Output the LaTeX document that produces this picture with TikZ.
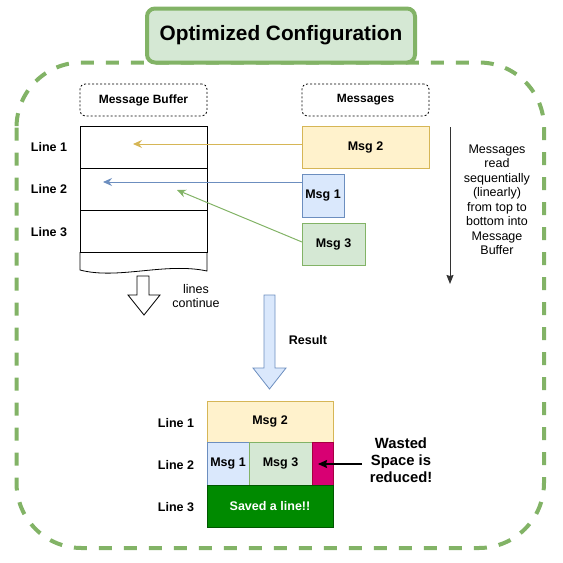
\documentclass[tikz,border=0pt]{standalone}
\usepackage{fontspec}
\setmainfont{Liberation Sans}
\usetikzlibrary{arrows.meta}
\definecolor{gfill}{HTML}{D5E8D4}
\definecolor{gline}{HTML}{82B366}
\definecolor{yfill}{HTML}{FFF2CC}
\definecolor{yline}{HTML}{D6B656}
\definecolor{bfill}{HTML}{DAE8FC}
\definecolor{bline}{HTML}{6C8EBF}
\definecolor{pfill}{HTML}{D80073}
\definecolor{pline}{HTML}{A50040}
\definecolor{dgfill}{HTML}{008A00}
\definecolor{dgline}{HTML}{005700}
\definecolor{darkarrow}{HTML}{333333}
\begin{document}
\begin{tikzpicture}[x=1pt,y=-1pt,
  every node/.style={inner sep=0pt,outer sep=0pt},
  lbl/.style={font=\bfseries\fontsize{12.5}{15}\selectfont},
  reg/.style={font=\fontsize{12.5}{14.5}\selectfont,align=center},
  cell/.style={draw,line width=0.8pt,font=\bfseries\fontsize{12.5}{15}\selectfont},
  hdr/.style={draw,dash pattern=on 2pt off 2pt,rounded corners=5pt,line width=0.8pt,
     minimum width=127pt,minimum height=32pt,font=\bfseries\fontsize{12}{14}\selectfont},
  carrow/.style={line width=1pt,-{Stealth[length=9pt,width=8pt,inset=3pt]}},
  bigarrow/.style={line width=0.8pt,line join=miter}
]
\useasboundingbox (0,0) rectangle (563,563);
% container
\draw[gline,line width=4pt,dash pattern=on 13pt off 12pt,rounded corners=65pt]
  (16.5,62.5) rectangle (544,548);
% title
\node[draw=gline,fill=gfill,line width=4pt,rounded corners=8pt,minimum width=268pt,
  minimum height=54pt,font=\bfseries\fontsize{20.8}{24}\selectfont] (title) at (281,35.5)
  {Optimized Configuration};
% headers
\node[hdr] (hbuf) at (143.5,100) {Message Buffer};
\node[hdr] (hmsg) at (365.5,100) {Messages};
% buffer
\node[cell,minimum width=127pt,minimum height=42pt] (b1) at (143.5,147) {};
\node[cell,minimum width=127pt,minimum height=42pt] (b2) at (143.5,189) {};
\node[cell,minimum width=127pt,minimum height=42pt] (b3) at (143.5,231) {};
\draw[line width=0.8pt] (b3.south west) -- (80,270) .. controls (118,280) and (165,262) .. (207,271) -- (b3.south east);
\node[lbl] (l1) at (49,147) {Line 1};
\node[lbl] (l2) at (49,189) {Line 2};
\node[lbl] (l3) at (49,232) {Line 3};
% messages
\node[cell,draw=yline,fill=yfill,minimum width=127pt,minimum height=42pt] (m2) at (365.5,147) {Msg 2};
\node[cell,draw=bline,fill=bfill,minimum width=42pt,minimum height=43pt] (m1) at (323,195.5) {Msg 1};
\node[cell,draw=gline,fill=gfill,minimum width=63pt,minimum height=42pt] (m3) at (333.5,244) {Msg 3};
% arrows into buffer
\coordinate (t2) at (133,144);
\coordinate (t1) at (103,182);
\coordinate (t3) at (177,190);
\draw[carrow,yline] (m2.west |- t2) -- (t2);
\draw[carrow,bline] (m1.west |- t1) -- (t1);
\draw[carrow,gline] (302,242) -- (t3);
% lines continue arrow
\draw[bigarrow,fill=white] (137,276) -- (149,276) -- (149,295) -- (160,295) -- (144,315)
  -- (128,295) -- (137,295) -- cycle;
\node[reg] (cont) at (196,296) {lines\\continue};
% reading arrow
\coordinate (rtop) at (450,127);
\coordinate (rbot) at (450,284);
\draw[darkarrow,line width=1pt,-{Stealth[length=9pt,width=7pt,inset=1pt]}] (rtop) -- (rbot);
\node[reg] (readtxt) at (497,200) {Messages\\read\\sequentially\\(linearly)\\from top to\\bottom into\\Message\\Buffer};
% result arrow
\draw[bigarrow,draw=bline,fill=bfill] (264,295) -- (275,295) -- (275,368) -- (286,368)
  -- (269.5,389) -- (253,368) -- (264,368) -- cycle;
\node[lbl] (res) at (308,340) {Result};
% result grid
\node[cell,draw=yline,fill=yfill,minimum width=126pt,minimum height=41pt] (r2) at (270,421.5) {Msg 2};
\node[cell,draw=bline,fill=bfill,minimum width=42pt,minimum height=43pt] (r1) at (228,463.5) {Msg 1};
\node[cell,draw=gline,fill=gfill,minimum width=63pt,minimum height=43pt] (r3) at (280.5,463.5) {Msg 3};
\node[cell,draw=pline,fill=pfill,minimum width=21pt,minimum height=43pt] (rp) at (322.5,463.5) {};
\node[cell,draw=dgline,fill=dgfill,text=white,minimum width=126pt,minimum height=42pt] (rs) at (270,506) {Saved a line!!};
\node[lbl] (rl1) at (176,423) {Line 1};
\node[lbl] (rl2) at (176,465) {Line 2};
\node[lbl] (rl3) at (176,507) {Line 3};
% wasted space
\node[font=\bfseries\fontsize{14.8}{17}\selectfont,align=center] (waste) at (401,460)
  {Wasted\\Space is\\reduced!};
\coordinate (wtip) at (318,464);
\draw[line width=1.2pt,-{Stealth[length=9pt,width=8pt,inset=1pt]}] (362,464) -- (wtip);
\end{tikzpicture}
\end{document}
